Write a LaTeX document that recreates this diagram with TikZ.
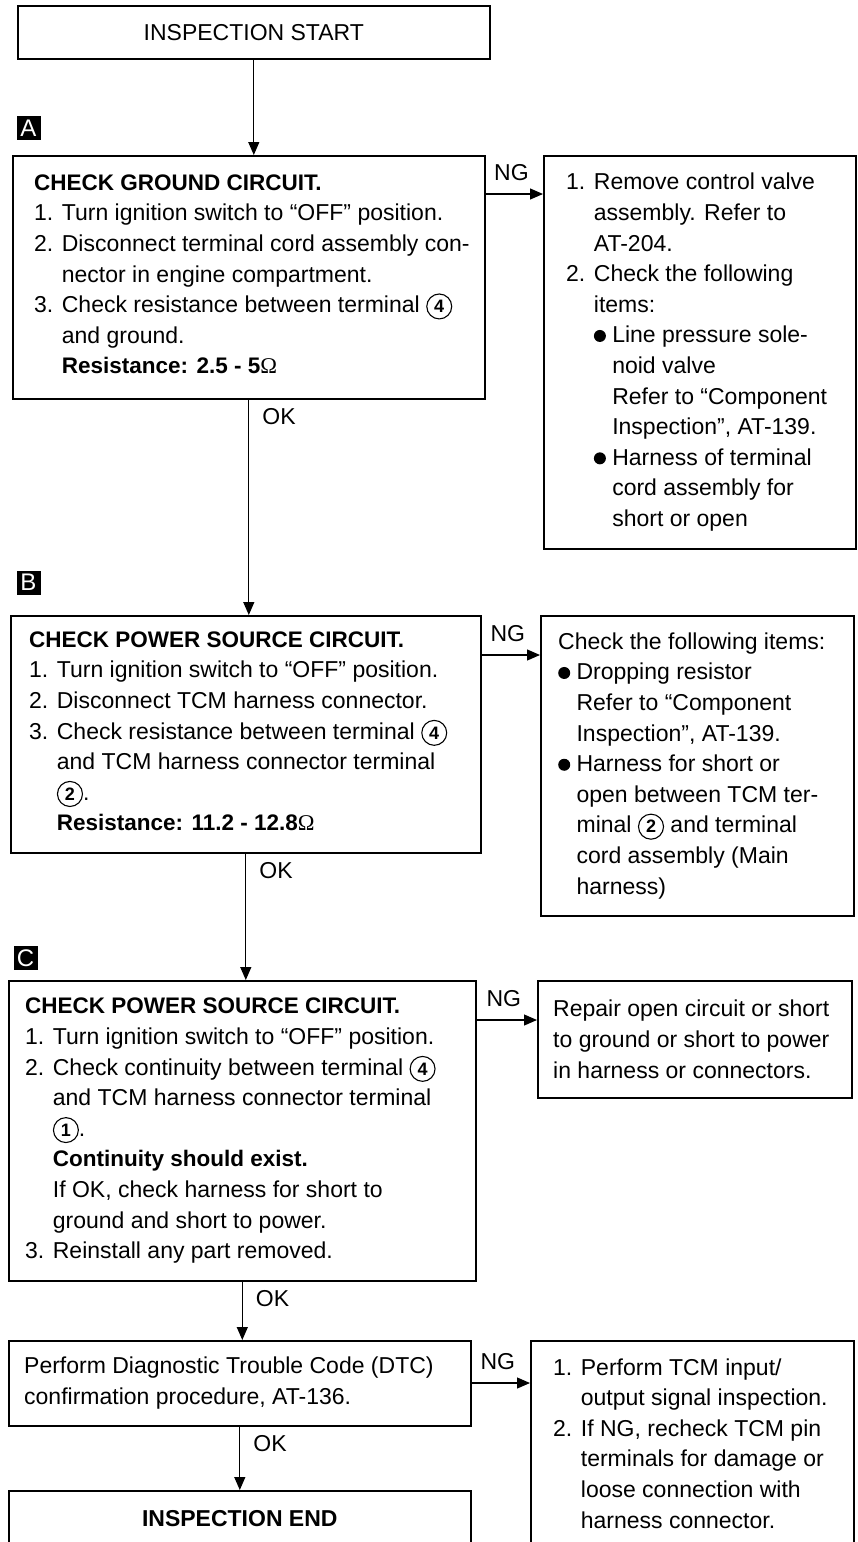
\documentclass[tikz,border=0pt]{standalone}
\usepackage{fontspec}
\setmainfont{Liberation Sans}
\newfontfamily\ohmfont{Liberation Serif}
\usetikzlibrary{arrows.meta}

\newcommand{\bodyfont}{\fontsize{23pt}{30.6pt}\selectfont}
\newcommand{\headfont}{\bfseries\fontsize{22.5pt}{30.6pt}\selectfont}
\newcommand{\cnum}[1]{\tikz[baseline=(cn.base)]\node[circle, draw, line width=1.1pt, inner sep=3.2pt,
  font=\bfseries\fontsize{18pt}{18pt}\selectfont] (cn) {#1};}
\newcommand{\ind}{\phantom{2. }}
\newcommand{\bul}{\tikz[baseline=-7pt]\fill (0,0) circle (6pt);\ }
\newcommand{\bind}{\phantom{\bul}}
\newcommand{\ohm}{{\ohmfont\mdseries Ω}}

\begin{document}
\begin{tikzpicture}[x=1pt, y=-1pt,
    box/.style={draw, line width=1.6pt, anchor=north west, inner sep=0pt},
    txt/.style={anchor=west, align=left, inner sep=0pt, font=\bodyfont},
    tag/.style={fill=black, text=white, minimum size=24pt, inner sep=0pt,
      font=\fontsize{24pt}{24pt}\selectfont},
    flow/.style={draw, line width=1.2pt, -{Triangle[length=13pt, width=11pt]}},
    lbl/.style={font=\bodyfont, inner sep=3pt},
  ]
  \useasboundingbox (0,0) rectangle (857,1542);
  \clip (0,0) rectangle (857,1542);

  % ---- start
  \node[box, minimum width=472pt, minimum height=53pt] (start) at (17,5) {};
  \node[font=\bodyfont, inner sep=0pt] (startT) at (start.center) {INSPECTION START};

  % ---- step A: ground circuit
  \node[tag] (tagA) at (28.5,128) {A};
  \node[box, minimum width=472pt, minimum height=243pt] (chkA) at (12,155) {};
  \node[txt] (chkAT) at ([xshift=22pt, yshift=3pt]chkA.west) {%
    {\headfont CHECK GROUND CIRCUIT.}\\
    1. Turn ignition switch to “OFF” position.\\
    2. Disconnect terminal cord assembly con-\\
    \ind nector in engine compartment.\\
    3. Check resistance between terminal \cnum{4}\\
    \ind and ground.\\
    \ind{\headfont Resistance: 2.5 - 5\ohm}};
  \node[box, minimum width=312pt, minimum height=393pt] (ngA) at (543,155) {};
  \node[txt] (ngAT) at ([xshift=23pt]ngA.west) {%
    1. Remove control valve\\
    \ind assembly. Refer to\\
    \ind AT-204.\\
    2. Check the following\\
    \ind items:\\
    \ind\bul Line pressure sole-\\
    \ind\bind noid valve\\
    \ind\bind Refer to “Component\\
    \ind\bind Inspection”, AT-139.\\
    \ind\bul Harness of terminal\\
    \ind\bind cord assembly for\\
    \ind\bind short or open};

  % ---- step B: power source, resistance
  \node[tag] (tagB) at (28.5,582.5) {B};
  \node[box, minimum width=470pt, minimum height=237pt] (chkB) at (10,615) {};
  \node[txt] (chkBT) at ([xshift=19pt, yshift=3pt]chkB.west) {%
    {\headfont CHECK POWER SOURCE CIRCUIT.}\\
    1. Turn ignition switch to “OFF” position.\\
    2. Disconnect TCM harness connector.\\
    3. Check resistance between terminal \cnum{4}\\
    \ind and TCM harness connector terminal\\
    \ind\cnum{2}.\\
    \ind{\headfont Resistance: 11.2 - 12.8\ohm}};
  \node[box, minimum width=313pt, minimum height=300pt] (ngB) at (540,615) {};
  \node[txt] (ngBT) at ([xshift=18pt]ngB.west) {%
    Check the following items:\\
    \bul Dropping resistor\\
    \bind Refer to “Component\\
    \bind Inspection”, AT-139.\\
    \bul Harness for short or\\
    \bind open between TCM ter-\\
    \bind minal \cnum{2} and terminal\\
    \bind cord assembly (Main\\
    \bind harness)};

  % ---- step C: power source, continuity
  \node[tag] (tagC) at (25.5,958) {C};
  \node[box, minimum width=467pt, minimum height=300pt] (chkC) at (8,980) {};
  \node[txt] (chkCT) at ([xshift=17pt]chkC.west) {%
    {\headfont CHECK POWER SOURCE CIRCUIT.}\\
    1. Turn ignition switch to “OFF” position.\\
    2. Check continuity between terminal \cnum{4}\\
    \ind and TCM harness connector terminal\\
    \ind\cnum{1}.\\
    \ind{\headfont Continuity should exist.}\\
    \ind If OK, check harness for short to\\
    \ind ground and short to power.\\
    3. Reinstall any part removed.};
  \node[box, minimum width=314pt, minimum height=117pt] (ngC) at (537,980) {};
  \node[txt] (ngCT) at ([xshift=16pt]ngC.west) {%
    Repair open circuit or short\\
    to ground or short to power\\
    in harness or connectors.};

  % ---- DTC confirmation
  \node[box, minimum width=462pt, minimum height=85pt] (dtc) at (8,1340) {};
  \node[txt] (dtcT) at ([xshift=16pt]dtc.west) {%
    Perform Diagnostic Trouble Code (DTC)\\
    confirmation procedure, AT-136.};
  \node[box, minimum width=323pt, minimum height=205pt] (ngD) at (530,1340) {};
  \node[txt] (ngDT) at ([xshift=23pt]ngD.west) {%
    1. Perform TCM input/\\
    \ind output signal inspection.\\
    2. If NG, recheck TCM pin\\
    \ind terminals for damage or\\
    \ind loose connection with\\
    \ind harness connector.};

  % ---- end
  \node[box, minimum width=462pt, minimum height=55pt] (stop) at (8,1490) {};
  \node[font=\bfseries\bodyfont, inner sep=0pt] (stopT) at (stop.center) {INSPECTION END};

  % ---- OK path
  \draw[flow] (start.south) -- (start.south |- chkA.north);
  \draw[flow] (chkA.south) -- node[lbl, pos=0, anchor=north west, xshift=10pt, yshift=-5pt] (okA) {OK}
    (chkA.south |- chkB.north);
  \draw[flow] (chkB.south) -- node[lbl, pos=0, anchor=north west, xshift=10pt, yshift=-5pt] (okB) {OK}
    (chkB.south |- chkC.north);
  \draw[flow] (chkC.south) -- node[lbl, pos=0, anchor=north west, xshift=10pt, yshift=-5pt] (okC) {OK}
    (chkC.south |- dtc.north);
  \draw[flow] (dtc.south) -- node[lbl, pos=0, anchor=north west, xshift=10pt, yshift=-5pt] (okD) {OK}
    (dtc.south |- stop.north);

  % ---- NG branches
  \coordinate (ngAs) at ([yshift=-39pt]chkA.north east);
  \coordinate (ngBs) at ([yshift=-40pt]chkB.north east);
  \coordinate (ngCs) at ([yshift=-40pt]chkC.north east);
  \coordinate (ngDs) at ([yshift=-43pt]dtc.north east);
  \draw[flow] (ngAs) -- node[lbl, above=10pt, pos=0.45] (ngAl) {NG} (ngAs -| ngA.west);
  \draw[flow] (ngBs) -- node[lbl, above=10pt, pos=0.45] (ngBl) {NG} (ngBs -| ngB.west);
  \draw[flow] (ngCs) -- node[lbl, above=10pt, pos=0.45] (ngCl) {NG} (ngCs -| ngC.west);
  \draw[flow] (ngDs) -- node[lbl, above=10pt, pos=0.45] (ngDl) {NG} (ngDs -| ngD.west);
\end{tikzpicture}
\end{document}
